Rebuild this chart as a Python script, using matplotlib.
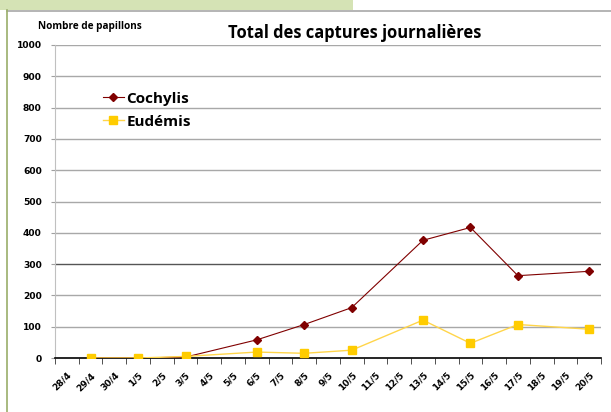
import numpy as np
import matplotlib.pyplot as plt
from matplotlib.lines import Line2D
from matplotlib.patches import Rectangle

dates = ['28/4', '29/4', '30/4', '1/5', '2/5', '3/5', '4/5', '5/5', '6/5', '7/5', '8/5',
         '9/5', '10/5', '11/5', '12/5', '13/5', '14/5', '15/5', '16/5', '17/5', '18/5',
         '19/5', '20/5']
obs_dates = ['29/4', '1/5', '3/5', '6/5', '8/5', '10/5', '13/5', '15/5', '17/5', '20/5']
cochylis = [0, 0, 3, 58, 107, 161, 376, 417, 263, 277]
eudemis = [0, 0, 5, 19, 15, 25, 121, 47, 107, 92]
yticks = np.arange(0, 1001, 100)

fig = plt.figure(figsize=(6.11, 4.12), dpi=100)
fig.patch.set_facecolor('white')

# frame decorations
fig.patches.append(Rectangle((0, 1 - 10/412), 353/611, 10/412, transform=fig.transFigure,
                             facecolor='#d5e3b5', edgecolor='none'))
fig.add_artist(Line2D([7/611, 1], [1 - 10.5/412, 1 - 10.5/412], transform=fig.transFigure,
                      color='#a8a8a8', lw=1.2))
fig.add_artist(Line2D([7/611, 7/611], [0, 1 - 10/412], transform=fig.transFigure,
                      color='#9aae6a', lw=1.2))

ax = fig.add_axes([55/611, 1 - 358/412, 546/611, 313/412])
x = np.arange(len(dates))
pos = [dates.index(d) for d in obs_dates]

for v in yticks[1:]:
    c = '#555555' if v == 300 else '#a8a8a8'
    ax.axhline(v, color=c, lw=1.0, zorder=0)

ax.plot(pos, eudemis, color='#ffd54a', lw=1.0, marker='s', ms=6, mfc='#ffcc00', mec='#ffcc00',
        label='Eudémis', zorder=4)
ax.plot(pos, cochylis, color='#800000', lw=0.8, marker='D', ms=4.5, mec='#800000',
        label='Cochylis', zorder=3)

ax.set_xlim(-0.5, len(dates) - 0.5)
ax.set_ylim(0, 1000)
ax.set_yticks(yticks)
ax.set_yticklabels([str(v) for v in yticks], fontsize=6.6, fontweight='bold', family='DejaVu Sans')
ax.set_xticks(x)
ax.set_xticklabels(dates, rotation=45, ha='right', va='top', rotation_mode='anchor',
                   fontsize=6.5, fontweight='bold', family='DejaVu Sans')
ax.set_xticks(np.arange(-0.5, len(dates)), minor=True)
ax.tick_params(axis='x', which='major', length=0, pad=9)
ax.tick_params(axis='x', which='minor', length=4, color='#333333', direction='out')
ax.tick_params(axis='y', length=3, color='#a0a0a0', pad=6.5)

for s in ['top', 'right']:
    ax.spines[s].set_visible(False)
ax.spines['left'].set_color('#c0c0c0')
ax.spines['bottom'].set_color('black')
ax.spines['bottom'].set_linewidth(1.2)

handles, labels = ax.get_legend_handles_labels()
ax.legend(handles[::-1], labels[::-1], loc='upper left', bbox_to_anchor=(0.062, 0.895),
          frameon=False, handlelength=1.4, handletextpad=0.15, labelspacing=0.6,
          prop={'family': 'Open Sans', 'weight': 'bold', 'size': 11})

fig.text(355/611, 1 - 33/412, 'Total des captures journalières', ha='center', va='center',
         fontsize=11.9, fontweight='bold', family='Open Sans')
fig.text(90/611, 1 - 27/412, 'Nombre de papillons', ha='center', va='center',
         fontsize=7.2, fontweight='bold', family='Open Sans')

fig.savefig('out.png', dpi=100)
